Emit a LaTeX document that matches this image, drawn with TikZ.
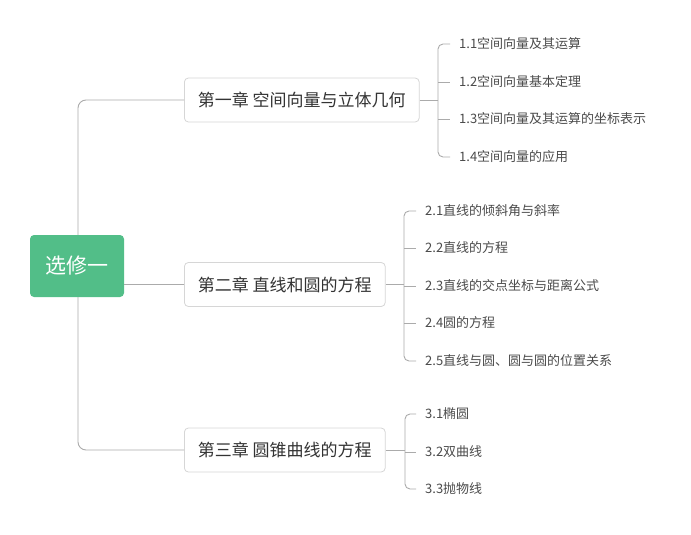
\documentclass[tikz,border=0pt]{standalone}
\usepackage{fontspec}
\setmainfont{Noto Sans CJK SC}
\newfontfamily\cjk{Noto Sans CJK SC}
\definecolor{rootgreen}{HTML}{52BE88}
\definecolor{linegray}{HTML}{ABABAB}
\definecolor{boxgray}{HTML}{D6D6D6}
\definecolor{txtdark}{HTML}{333333}
\definecolor{txtmid}{HTML}{4A4A4A}
\begin{document}
\begin{tikzpicture}[x=1pt,y=-1pt,
  rootbox/.style={fill=rootgreen,rounded corners=4pt,minimum width=94pt,minimum height=62pt,text=white,font=\cjk\fontsize{21}{24}\selectfont,inner sep=0pt},
  chapbox/.style={draw=boxgray,line width=0.8pt,fill=white,rounded corners=4pt,minimum height=44pt,inner xsep=13.5pt,anchor=west,text=txtdark,font=\cjk\fontsize{17}{20}\selectfont},
  leaf/.style={anchor=west,inner sep=0pt,text=txtmid,font=\cjk\fontsize{13}{15}\selectfont},
  conn/.style={draw=linegray,line width=0.9pt},
  brk/.style={conn,rounded corners=5pt}]
\useasboundingbox (0,0) rectangle (691,535);
% chapters
\node[chapbox] (ch1) at (184,100) {第一章 空间向量与立体几何};
\node[chapbox] (ch2) at (184,284.5) {第二章 直线和圆的方程};
\node[chapbox] (ch3) at (184,450) {第三章 圆锥曲线的方程};
% leaves
\node[leaf] (a1) at (459,44) {1.1空间向量及其运算};
\node[leaf] (a2) at (459,82) {1.2空间向量基本定理};
\node[leaf] (a3) at (459,119) {1.3空间向量及其运算的坐标表示};
\node[leaf] (a4) at (459,157) {1.4空间向量的应用};
\node[leaf] (b1) at (425,211) {2.1直线的倾斜角与斜率};
\node[leaf] (b2) at (425,248) {2.2直线的方程};
\node[leaf] (b3) at (425,286) {2.3直线的交点坐标与距离公式};
\node[leaf] (b4) at (425,323) {2.4圆的方程};
\node[leaf] (b5) at (425,361) {2.5直线与圆、圆与圆的位置关系};
\node[leaf] (c1) at (425,414) {3.1椭圆};
\node[leaf] (c2) at (425,452) {3.2双曲线};
\node[leaf] (c3) at (425,489) {3.3抛物线};
% junctions
\coordinate (ja) at (438,100);
\coordinate (jb) at (404,284.5);
\coordinate (jc) at (405,450);
\coordinate (trk) at (78,284.5);
% root trunk
\draw[conn,rounded corners=8pt] (ch1.west) -| (trk) |- (ch3.west);
\node[rootbox] (root) at (77,266) {选修一};
\draw[conn] (root.east |- ch2.west) -- (ch2.west);
% chapter 1 bracket
\draw[conn] (ch1.east) -- (ja);
\draw[brk] (ja) |- ([xshift=-9pt]a1.west);
\draw[brk] (ja) |- ([xshift=-9pt]a4.west);
\draw[conn] (ja |- a2.west) -- ([xshift=-9pt]a2.west);
\draw[conn] (ja |- a3.west) -- ([xshift=-9pt]a3.west);
% chapter 2 bracket
\draw[conn] (ch2.east) -- (jb);
\draw[brk] (jb) |- ([xshift=-9pt]b1.west);
\draw[brk] (jb) |- ([xshift=-9pt]b5.west);
\draw[conn] (jb |- b2.west) -- ([xshift=-9pt]b2.west);
\draw[conn] (jb |- b3.west) -- ([xshift=-9pt]b3.west);
\draw[conn] (jb |- b4.west) -- ([xshift=-9pt]b4.west);
% chapter 3 bracket
\draw[conn] (ch3.east) -- (jc);
\draw[brk] (jc) |- ([xshift=-9pt]c1.west);
\draw[brk] (jc) |- ([xshift=-9pt]c3.west);
\draw[conn] (jc |- c2.west) -- ([xshift=-9pt]c2.west);
\end{tikzpicture}
\end{document}
